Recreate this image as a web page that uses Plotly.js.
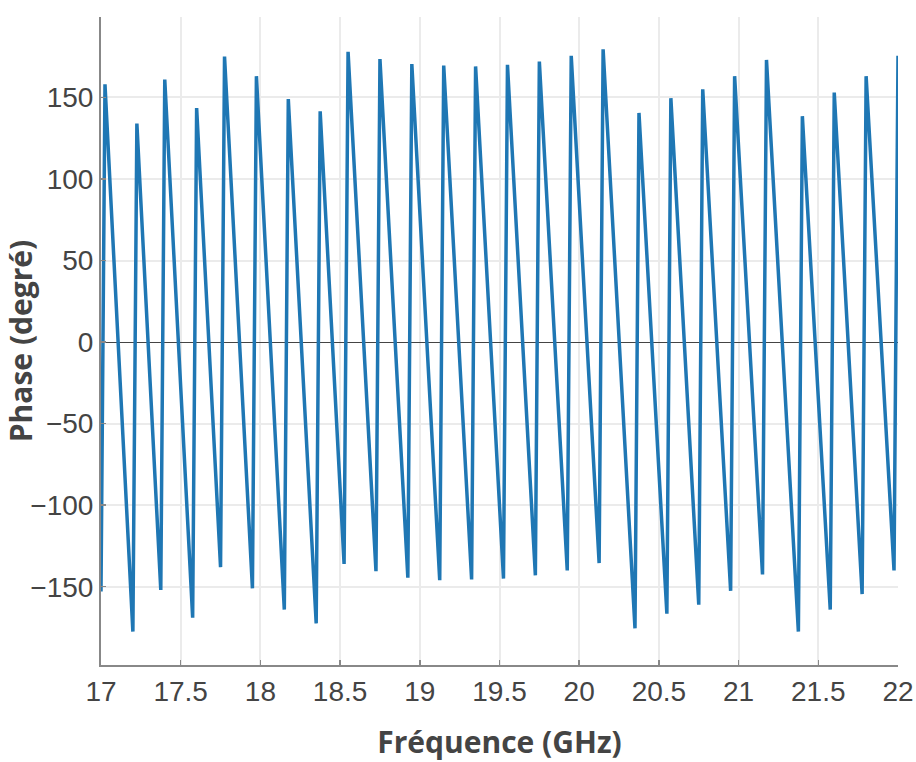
<!DOCTYPE html>
<html>
<head>
<meta charset="utf-8">
<script src="https://cdn.plot.ly/plotly-3.0.1.min.js"></script>
<style>html,body{margin:0;padding:0;background:#fff;}#chart{width:916px;height:762px;}</style>
</head>
<body>
<div id="chart"></div>
<script>
// Frequency (GHz) at the wrap points (troughs and peaks) of the phase curve
const frequency = [
  17.0, 17.025, 17.2, 17.225, 17.375, 17.4, 17.575, 17.6, 17.75, 17.775,
  17.95, 17.975, 18.15, 18.175, 18.35, 18.375, 18.525, 18.55, 18.725, 18.75,
  18.925, 18.95, 19.125, 19.15, 19.325, 19.35, 19.525, 19.55, 19.725, 19.75,
  19.925, 19.95, 20.125, 20.15, 20.35, 20.375, 20.55, 20.575, 20.75, 20.775,
  20.95, 20.975, 21.15, 21.175, 21.375, 21.4, 21.575, 21.6, 21.775, 21.8,
  21.975, 22.0
];
// Phase (degrees)
const phase = [
  -153, 158, -177.5, 134, -152, 161, -169, 143.5, -138, 175,
  -151, 163, -164, 149, -172.5, 141.5, -136, 178, -140.5, 173.5,
  -144.5, 170.5, -146, 169.5, -145.5, 169, -145, 170, -143, 172,
  -140, 175.5, -135.5, 179.5, -175.5, 140.5, -166.5, 149.5, -161, 155,
  -152.5, 163, -142.5, 173, -177.5, 138.5, -164, 153, -154.5, 163,
  -140, 175.5
];
const xTickVals = [17, 17.5, 18, 18.5, 19, 19.5, 20, 20.5, 21, 21.5, 22];
const xTickText = ["17", "17.5", "18", "18.5", "19", "19.5", "20", "20.5", "21", "21.5", "22"];
const yTickVals = [-150, -100, -50, 0, 50, 100, 150];
const yTickText = ["\u2212150", "\u2212100", "\u221250", "0", "50", "100", "150"];

const trace = {
  x: frequency,
  y: phase,
  type: 'scatter',
  mode: 'lines',
  line: {color: '#1f77b4', width: 3.5},
  hoverinfo: 'x+y'
};

const titleFont = {family: '"Open Sans", "Noto Sans", sans-serif', size: 30, color: '#444', weight: 'bold'};
const tickFont = {family: '"Liberation Sans", Arial, sans-serif', size: 28, color: '#444'};

const layout = {
  width: 916,
  height: 762,
  margin: {l: 101, r: 18, t: 17, b: 97, pad: 0},
  paper_bgcolor: '#fff',
  plot_bgcolor: '#fff',
  showlegend: false,
  xaxis: {
    range: [17, 22],
    tickmode: 'array',
    tickvals: xTickVals,
    ticktext: xTickText,
    ticks: 'inside',
    ticklen: 5,
    tickwidth: 1.5,
    tickcolor: '#888',
    showline: true,
    linecolor: '#888',
    linewidth: 2,
    showgrid: true,
    gridcolor: '#ebebeb',
    gridwidth: 2,
    zeroline: false,
    tickfont: tickFont,
    automargin: false,
    title: {text: '<b>Fréquence (GHz)</b>', font: titleFont, standoff: 27}
  },
  yaxis: {
    range: [-198, 199.3],
    tickmode: 'array',
    tickvals: yTickVals,
    ticktext: yTickText,
    ticks: 'inside',
    ticklen: 5,
    tickwidth: 1.5,
    tickcolor: '#888',
    showline: true,
    linecolor: '#888',
    linewidth: 2,
    showgrid: true,
    gridcolor: '#ebebeb',
    gridwidth: 2,
    zeroline: true,
    zerolinecolor: '#444',
    zerolinewidth: 1,
    tickfont: tickFont,
    automargin: false,
    title: {text: '<b>Phase (degré)</b>', font: titleFont, standoff: 4}
  }
};

Plotly.newPlot('chart', [trace], layout, {displayModeBar: false, staticPlot: true});
</script>
</body>
</html>
